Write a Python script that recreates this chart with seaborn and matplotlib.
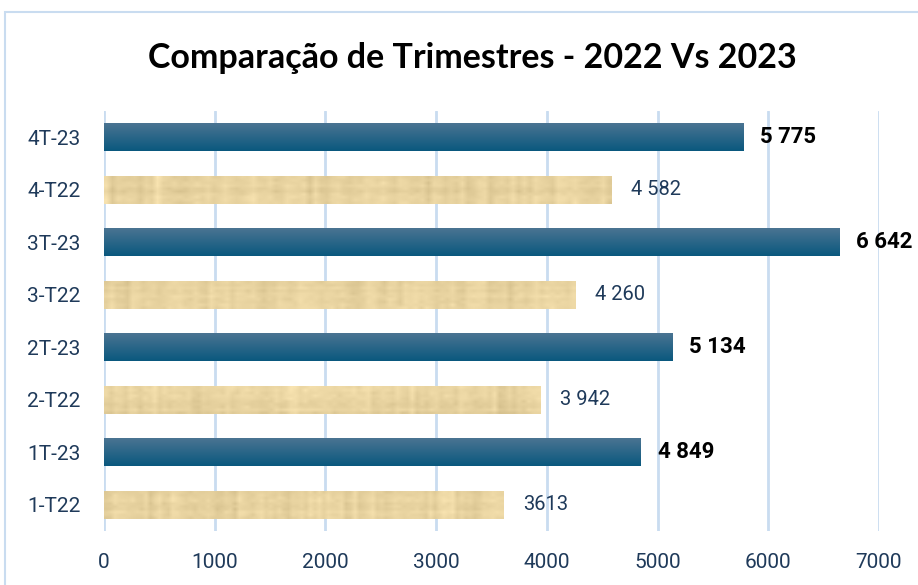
import numpy as np
import pandas as pd
import matplotlib
matplotlib.use("Agg")
import matplotlib.pyplot as plt
import seaborn as sns
from matplotlib.patches import Rectangle

# Data
categories = ["4T-23", "4-T22", "3T-23", "3-T22", "2T-23", "2-T22", "1T-23", "1-T22"]
values = [5775, 4582, 6642, 4260, 5134, 3942, 4849, 3613]
years = ["2023", "2022", "2023", "2022", "2023", "2022", "2023", "2022"]
value_labels = ["5 775", "4 582", "6 642", "4 260", "5 134", "3 942", "4 849", "3613"]
x_ticks = [0, 1000, 2000, 3000, 4000, 5000, 6000, 7000]

df = pd.DataFrame({"cat": categories, "val": values, "year": years})

sns.set_theme(style="white")
plt.rcParams["font.family"] = ["Roboto", "DejaVu Sans"]

fig = plt.figure(figsize=(9.18, 5.85), dpi=100)
ax = fig.add_axes([0.1133, 0.0923, 0.8442, 0.7180])

palette = {"2023": "#0f5a80", "2022": "#e8d3a0"}
sns.barplot(data=df, y="cat", x="val", hue="year", palette=palette, dodge=False,
            order=categories, hue_order=["2023", "2022"], width=0.53,
            orient="h", ax=ax, legend=False, linewidth=0, saturation=1)

ax.set_xlim(0, 7000)
ax.set_ylim(len(categories) - 0.5, -0.5)

# gradient / texture overlays clipped to bars
grad = np.linspace(0, 1, 64).reshape(-1, 1)
top_c = np.array([0x4a, 0x74, 0x92]) / 255
bot_c = np.array([0x0a, 0x58, 0x7e]) / 255
blue_img = top_c * (1 - grad[..., None]) + bot_c * grad[..., None]
blue_img = blue_img.reshape(64, 1, 3)
rng = np.random.default_rng(3)
for p in ax.patches:
    x0, y0 = p.get_x(), p.get_y()
    w, h = p.get_width(), p.get_height()
    if w <= 0:
        continue
    fc = p.get_facecolor()
    if fc[2] > 0.4 and fc[0] < 0.3:
        im = ax.imshow(blue_img, extent=(x0, x0 + w, y0 + h, y0), aspect="auto",
                       interpolation="bilinear", zorder=p.get_zorder() + 0.1)
    else:
        base = np.array([0xe8, 0xd3, 0xa0]) / 255
        colnoise = rng.normal(0, 0.018, (1, 90, 1))
        rownoise = rng.normal(0, 0.012, (10, 1, 1))
        noise = colnoise + rownoise + rng.normal(0, 0.01, (10, 90, 1))
        cols = np.clip(base + noise, 0, 1)
        im = ax.imshow(cols, extent=(x0, x0 + w, y0 + h, y0), aspect="auto",
                       interpolation="bilinear", zorder=p.get_zorder() + 0.1)
    im.set_clip_path(p)

# value labels
for i, (v, y, lab) in enumerate(zip(values, years, value_labels)):
    if y == "2023":
        ax.annotate(lab, (v, i), xytext=(12, 0), textcoords="offset points",
                    va="center", ha="left", fontsize=16, fontweight="bold",
                    color="black")
    else:
        ax.annotate(lab, (v, i), xytext=(14, 0), textcoords="offset points",
                    va="center", ha="left", fontsize=14.5, color="#1f3a5a")

ax.set_xticks(x_ticks)
ax.set_xticklabels([str(t) for t in x_ticks])
ax.grid(axis="x", color="#c9dcf0", linewidth=2)
ax.grid(axis="y", visible=False)
ax.set_axisbelow(True)
for s in ax.spines.values():
    s.set_visible(False)
ax.tick_params(axis="both", length=0, labelsize=15, colors="#1f3a5a")
ax.tick_params(axis="y", pad=17)
ax.tick_params(axis="x", pad=16)
ax.set_xlabel("")
ax.set_ylabel("")

fig.text(0.515, 0.9, "Comparação de Trimestres - 2022 Vs 2023", ha="center", va="center",
         fontsize=24.5, fontweight="bold", color="black", family=["Lato", "DejaVu Sans"])

# outer chart border
fig.patches.append(Rectangle((5 / 918, -0.1), 1.2, 1 - 12 / 585 + 0.1,
                             transform=fig.transFigure, fill=False,
                             edgecolor="#c9dcf0", linewidth=1.5))

fig.savefig("out.png", dpi=100)
